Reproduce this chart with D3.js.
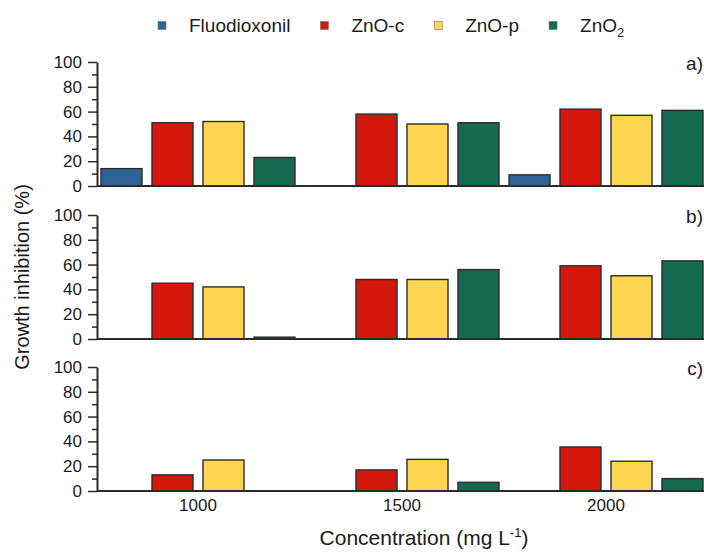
<!DOCTYPE html>
<html lang="en">
<head>
  <meta charset="UTF-8">
  <title>Growth inhibition</title>
  <script src="https://d3js.org/d3.v7.min.js"></script>
  <style>
    body { margin: 0; background: #fff; }
    text { font-family: "Liberation Sans", Arial, sans-serif; fill: #1b1b1b; }
  </style>
</head>
<body>
  <script>
    const width = 704, height = 553;

    const concentrations = ['1000', '1500', '2000'];
    const series = ['Fluodioxonil', 'ZnO-c', 'ZnO-p', 'ZnO2'];
    const colors = ['#2e6399', '#d5180b', '#ffd650', '#146a50'];
    const panelNames = ['a)', 'b)', 'c)'];
    const yTicks = [0, 20, 40, 60, 80, 100];
    const yMinor = [10, 30, 50, 70, 90];

    // one row per concentration, in series order (null = no bar)
    const panelA = [[14, 51, 52, 23], [null, 58, 50, 51], [9, 62, 57, 61]];
    const panelB = [[null, 45, 42, 1.5], [null, 48, 48, 56], [null, 59, 51, 63]];
    const panelC = [[null, 13, 25, null], [null, 17, 25.5, 7], [null, 35.5, 24, 10]];
    const panels = [panelA, panelB, panelC];

    const left = 97;
    const panelTops = [62, 215, 367];
    const panelH = 124;

    const svg = d3.select('body')
      .append('svg')
      .attr('width', width)
      .attr('height', height);

    const x = d3.scaleBand().domain(concentrations).range([96, 708]);
    const xInner = d3.scaleBand().domain(series)
      .range([0, x.bandwidth()])
      .paddingInner(0.196)
      .paddingOuter(0.098);
    const color = d3.scaleOrdinal().domain(series).range(colors);

    panels.forEach((rows, p) => {
      const top = panelTops[p];
      const y = d3.scaleLinear().domain([0, 100]).range([top + panelH, top]);
      const g = svg.append('g');

      const bars = [];
      rows.forEach((row, i) => row.forEach((v, j) => {
        if (v != null) bars.push({ conc: concentrations[i], s: series[j], v });
      }));

      g.selectAll('rect.bar')
        .data(bars)
        .join('rect')
        .attr('class', 'bar')
        .attr('x', d => x(d.conc) + xInner(d.s))
        .attr('width', xInner.bandwidth())
        .attr('y', d => y(d.v))
        .attr('height', d => y(0) - y(d.v))
        .attr('fill', d => color(d.s))
        .attr('stroke', '#2b2b2b')
        .attr('stroke-width', 1.4);

      // x baseline
      g.append('line')
        .attr('x1', left).attr('x2', width)
        .attr('y1', y(0)).attr('y2', y(0))
        .attr('stroke', '#2b2b2b')
        .attr('stroke-width', 2);

      const yAxis = d3.axisLeft(y)
        .tickValues(yTicks)
        .tickSize(9)
        .tickSizeOuter(0)
        .tickPadding(6);
      const yAxisMinor = d3.axisLeft(y)
        .tickValues(yMinor)
        .tickSize(5)
        .tickFormat('');

      const ga = g.append('g')
        .attr('transform', `translate(${left}, 0)`)
        .call(yAxis);
      g.append('g')
        .attr('transform', `translate(${left}, 0)`)
        .call(yAxisMinor)
        .select('.domain').remove();
      g.selectAll('.tick line').attr('stroke', '#2b2b2b').attr('stroke-width', 1.5);
      ga.select('.domain').attr('stroke', '#2b2b2b').attr('stroke-width', 2);
      ga.selectAll('.tick text')
        .style('font-size', '17px')
        .style('font-family', '"Liberation Sans", Arial, sans-serif')
        .attr('fill', '#1b1b1b');

      g.append('text')
        .attr('x', 703)
        .attr('y', top + 8)
        .attr('text-anchor', 'end')
        .style('font-size', '19px')
        .text(panelNames[p]);

      if (p === 2) {
        const xAxis = d3.axisBottom(x).tickSize(0).tickPadding(8);
        const gx = g.append('g')
          .attr('transform', `translate(0, ${y(0)})`)
          .call(xAxis);
        gx.select('.domain').remove();
        gx.selectAll('.tick text')
          .style('font-size', '17px')
          .style('font-family', '"Liberation Sans", Arial, sans-serif')
          .attr('fill', '#1b1b1b');
      }
    });

    // legend
    const legend = svg.append('g');
    let lx = 158;
    series.forEach((s, i) => {
      legend.append('rect')
        .attr('x', lx).attr('y', 21.5)
        .attr('width', 8).attr('height', 8)
        .attr('fill', colors[i])
        .attr('stroke', '#777')
        .attr('stroke-width', 0.6);
      const t = legend.append('text')
        .attr('x', lx + 31)
        .attr('y', 32)
        .style('font-size', '19px');
      if (s === 'ZnO2') {
        t.append('tspan').text('ZnO');
        t.append('tspan').attr('dy', 5).style('font-size', '13px').text('2');
      } else {
        t.text(s);
      }
      lx += 31 + t.node().getComputedTextLength() + 30;
    });

    // axis titles
    svg.append('text')
      .attr('transform', 'translate(29, 277) rotate(-90)')
      .attr('text-anchor', 'middle')
      .style('font-size', '20px')
      .text('Growth inhibition (%)');

    const xt = svg.append('text')
      .attr('x', 424)
      .attr('y', 545)
      .attr('text-anchor', 'middle')
      .style('font-size', '21px');
    xt.append('tspan').text('Concentration (mg L');
    xt.append('tspan').attr('dy', -8).style('font-size', '13px').text('-1');
    xt.append('tspan').attr('dy', 8).text(')');
  </script>
</body>
</html>
